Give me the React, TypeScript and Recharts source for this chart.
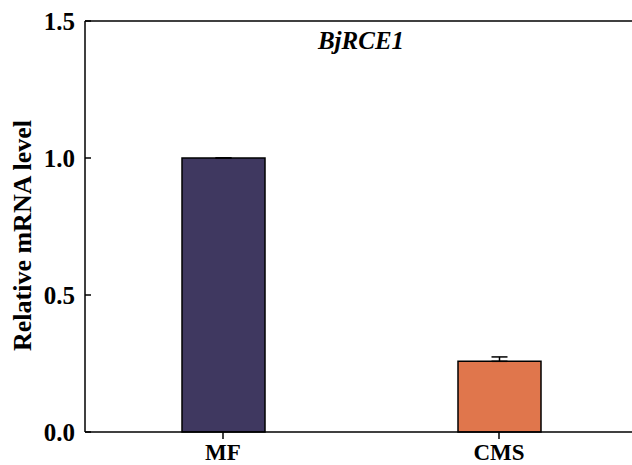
import { Bar, BarChart, Cell, ErrorBar, ReferenceLine, XAxis, YAxis } from 'recharts';

const groups = ['MF', 'CMS'];
const levels = [1.0, 0.258];
const errors: [number, number][] = [[0, 0], [0, 0.016]];
const colors = ['#3f3860', '#e0764c'];
const yTicks = [0, 0.5, 1.0, 1.5];

const data = groups.map((g, i) => ({ group: g, level: levels[i], err: errors[i] }));

const font = '"Liberation Serif", "Times New Roman", serif';

function YTick(props: any) {
  const { x, y, payload } = props;
  return (
    <g>
      <line x1={x + 10} x2={x + 16} y1={y} y2={y} stroke="#000" strokeWidth={1.5} />
      <text
        x={x}
        y={y}
        dy="0.35em"
        textAnchor="end"
        fontFamily={font}
        fontWeight="bold"
        fontSize={25}
        fill="#000"
      >
        {Number(payload.value).toFixed(1)}
      </text>
    </g>
  );
}

export default function App() {
  return (
    <div style={{ position: 'absolute', left: 0, top: 0, width: 632, height: 465, overflow: 'hidden', background: '#fff' }}>
      <BarChart width={645} height={465} data={data} margin={{ top: 21, right: 8, bottom: 0, left: 0 }}>
        <XAxis
          dataKey="group"
          axisLine={{ stroke: '#000', strokeWidth: 1.5 }}
          tickLine={{ stroke: '#000', strokeWidth: 1.5 }}
          tickSize={7}
          tickMargin={5}
          height={33}
          tick={{ fill: '#000', fontFamily: font, fontWeight: 'bold', fontSize: 23 }}
        />
        <YAxis
          domain={[0, 1.5]}
          ticks={yTicks}
          width={85}
          axisLine={{ stroke: '#000', strokeWidth: 1.5 }}
          tickLine={false}
          tickSize={0}
          tickMargin={10}
          tick={<YTick />}
          label={{
            value: 'Relative mRNA level',
            angle: -90,
            position: 'insideLeft',
            offset: 22,
            dy: 9,
            style: { textAnchor: 'middle', fontFamily: font, fontWeight: 'bold', fontSize: 26, fill: '#000' },
          }}
        />
        <ReferenceLine
          y={1.5}
          stroke="#000"
          strokeWidth={1.5}
          label={{
            value: 'BjRCE1',
            position: 'insideTop',
            offset: 10,
            style: { fontFamily: font, fontWeight: 'bold', fontStyle: 'italic', fontSize: 25, fill: '#000' },
          }}
        />
        <Bar dataKey="level" barSize={83} stroke="#000" strokeWidth={1.5} isAnimationActive={false}>
          {data.map((d, i) => (
            <Cell key={d.group} fill={colors[i]} />
          ))}
          <ErrorBar dataKey="err" width={8} stroke="#000" strokeWidth={1.5} />
        </Bar>
      </BarChart>
    </div>
  );
}
